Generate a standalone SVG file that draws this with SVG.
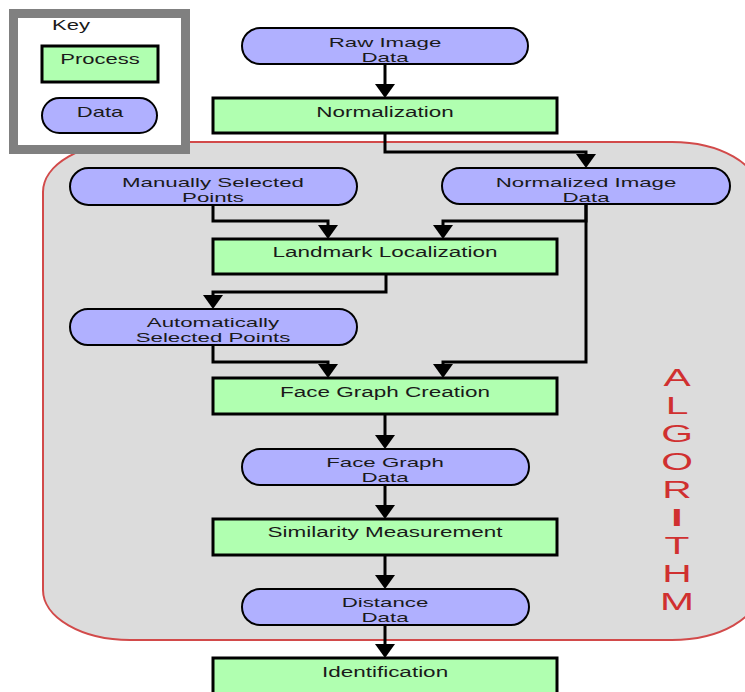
<svg xmlns="http://www.w3.org/2000/svg" width="745" height="692" viewBox="0 0 745 692">
<style>
.t{font-family:"Liberation Sans",Arial,Helvetica,sans-serif;font-size:15px;fill:#1a1a1a;text-anchor:middle}
.t2{font-family:"Liberation Sans",Arial,Helvetica,sans-serif;font-size:13.5px;fill:#1a1a1a;text-anchor:middle}
.proc{fill:#b0ffb0;stroke:#000;stroke-width:3}
.data{fill:#b0b0ff;stroke:#000;stroke-width:2}
.conn{fill:none;stroke:#000;stroke-width:3}
.alg{font-family:"Liberation Sans",Arial,Helvetica,sans-serif;font-size:24px;fill:#d03030;text-anchor:middle}
</style>
<defs>
<marker id="ah" markerUnits="userSpaceOnUse" viewBox="0 0 14 20" refX="8" refY="10" markerWidth="14" markerHeight="20" orient="auto">
<path d="M0,0 L14,10 L0,20 Z" fill="#000"/>
</marker>
</defs>
<rect width="745" height="692" fill="#fff"/>
<g id="algorithm-region">
<rect x="43" y="142" width="716" height="498" rx="87" ry="50" fill="#dcdcdc" stroke="#d24a4a" stroke-width="2"/>
<text class="alg" transform="translate(677,0) scale(1.7,1)"><tspan x="0" y="386">A</tspan><tspan x="0" y="414">L</tspan><tspan x="0" y="442">G</tspan><tspan x="0" y="470">O</tspan><tspan x="0" y="498">R</tspan><tspan x="0" y="526" font-weight="bold">I</tspan><tspan x="0" y="554">T</tspan><tspan x="0" y="582">H</tspan><tspan x="0" y="610">M</tspan></text>
</g>
<g id="key">
<rect x="13.5" y="13.5" width="172" height="136" fill="#fff" stroke="#808080" stroke-width="9"/>
<text class="t" style="text-anchor:start" transform="translate(52,30) scale(1.47,1)">Key</text>
<rect class="proc" x="42" y="46" width="116" height="36"/>
<text class="t" transform="translate(100,64) scale(1.47,1)">Process</text>
<rect class="data" x="42" y="98" width="115" height="35" rx="17.5"/>
<text class="t" transform="translate(100,117) scale(1.47,1)">Data</text>
</g>
<g id="connectors">
<path class="conn" d="M385,64 V92" marker-end="url(#ah)"/>
<path class="conn" d="M385,133 V152 H586 V162" marker-end="url(#ah)"/>
<path class="conn" d="M213,205 V221 H328 V233" marker-end="url(#ah)"/>
<path class="conn" d="M586,204 V221 H443 V233" marker-end="url(#ah)"/>
<path class="conn" d="M386,274 V292 H213 V303" marker-end="url(#ah)"/>
<path class="conn" d="M213,345 V362 H328 V372" marker-end="url(#ah)"/>
<path class="conn" d="M586,204 V362 H443 V372" marker-end="url(#ah)"/>
<path class="conn" d="M385,414 V443" marker-end="url(#ah)"/>
<path class="conn" d="M385,485 V513" marker-end="url(#ah)"/>
<path class="conn" d="M385,555 V583" marker-end="url(#ah)"/>
<path class="conn" d="M385,625 V652" marker-end="url(#ah)"/>
</g>
<g id="raw-image-data">
<rect class="data" x="242" y="28" width="286" height="36" rx="18"/>
<text class="t2" transform="translate(385,46.5) scale(1.65,1)">Raw Image</text>
<text class="t2" transform="translate(385,62) scale(1.65,1)">Data</text>
</g>
<g id="normalization">
<rect class="proc" x="213" y="98" width="344" height="35"/>
<text class="t" transform="translate(385,117) scale(1.5,1)">Normalization</text>
</g>
<g id="manually-selected-points">
<rect class="data" x="70" y="168" width="287" height="37" rx="18.5"/>
<text class="t2" transform="translate(213,186.5) scale(1.65,1)">Manually Selected</text>
<text class="t2" transform="translate(213,202) scale(1.65,1)">Points</text>
</g>
<g id="normalized-image-data">
<rect class="data" x="442" y="168" width="288" height="36" rx="18"/>
<text class="t2" transform="translate(586,186.5) scale(1.65,1)">Normalized Image</text>
<text class="t2" transform="translate(586,202) scale(1.65,1)">Data</text>
</g>
<g id="landmark-localization">
<rect class="proc" x="213" y="239" width="344" height="35"/>
<text class="t" transform="translate(385,257) scale(1.5,1)">Landmark Localization</text>
</g>
<g id="automatically-selected-points">
<rect class="data" x="70" y="309" width="287" height="36" rx="18"/>
<text class="t2" transform="translate(213,326.5) scale(1.65,1)">Automatically</text>
<text class="t2" transform="translate(213,342) scale(1.65,1)">Selected Points</text>
</g>
<g id="face-graph-creation">
<rect class="proc" x="213" y="378" width="344" height="36"/>
<text class="t" transform="translate(385,397) scale(1.5,1)">Face Graph Creation</text>
</g>
<g id="face-graph-data">
<rect class="data" x="242" y="449" width="287" height="36" rx="18"/>
<text class="t2" transform="translate(385,466.5) scale(1.65,1)">Face Graph</text>
<text class="t2" transform="translate(385,482) scale(1.65,1)">Data</text>
</g>
<g id="similarity-measurement">
<rect class="proc" x="213" y="519" width="344" height="36"/>
<text class="t" transform="translate(385,537) scale(1.5,1)">Similarity Measurement</text>
</g>
<g id="distance-data">
<rect class="data" x="242" y="589" width="287" height="36" rx="18"/>
<text class="t2" transform="translate(385,606.5) scale(1.65,1)">Distance</text>
<text class="t2" transform="translate(385,622) scale(1.65,1)">Data</text>
</g>
<g id="identification">
<rect class="proc" x="213" y="658" width="344" height="40"/>
<text class="t" transform="translate(385,677) scale(1.5,1)">Identification</text>
</g>
</svg>
